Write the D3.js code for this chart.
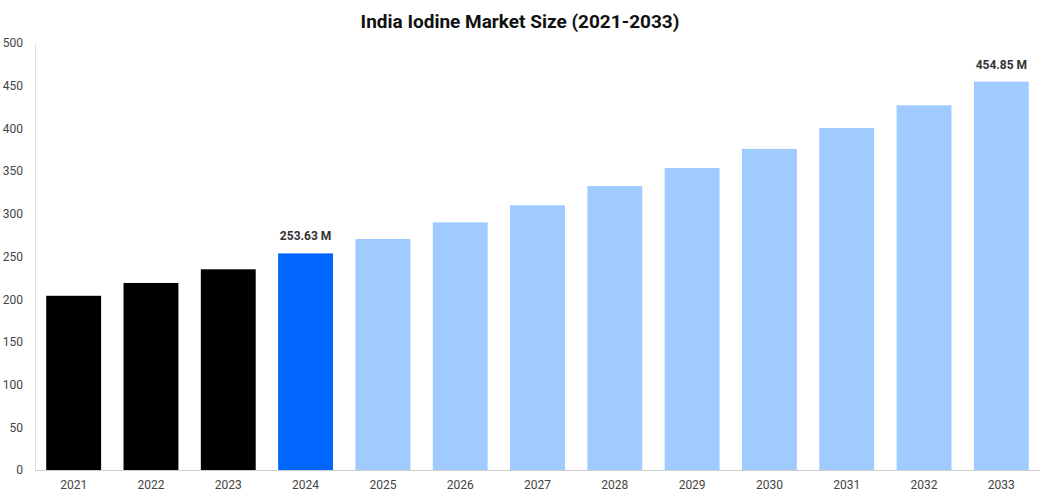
<!DOCTYPE html><html><head><meta charset="utf-8"><script src="https://cdn.jsdelivr.net/npm/d3@7"></script>
<style>body{margin:0;background:#fff;font-family:Roboto,Arial,sans-serif}</style></head><body><svg id="c" width="1040" height="500"></svg>
<script>
const years=["2021","2022","2023","2024","2025","2026","2027","2028","2029","2030","2031","2032","2033"];
const values=[204,219,235,253.63,270.5,290,310,332.5,353.6,376,400.5,427,454.85];
const colors=["#000000","#000000","#000000","#0066ff","#a0cbff","#a0cbff","#a0cbff","#a0cbff","#a0cbff","#a0cbff","#a0cbff","#a0cbff","#a0cbff"];
const labels={"2024":"253.63 M","2033":"454.85 M"};
const yTicks=[0,50,100,150,200,250,300,350,400,450,500];
const svg=d3.select("#c");
const x=d3.scaleBand().domain(years).range([35,1040]).paddingInner(0.29).paddingOuter(0.145);
const y=d3.scaleLinear().domain([0,500]).range([470,43]);
svg.append("text").attr("x",520).attr("y",28).attr("text-anchor","middle").attr("font-size",19).attr("font-weight","bold").attr("fill","#111").text("India Iodine Market Size (2021-2033)");
const ya=svg.append("g").attr("transform","translate(35,0)").call(d3.axisLeft(y).tickValues(yTicks).tickSize(0).tickPadding(12));
ya.select(".domain").attr("stroke","#ddd");
ya.selectAll("text").attr("font-size",12).attr("fill","#444").attr("font-family","Roboto,Arial,sans-serif");
const xa=svg.append("g").attr("transform","translate(0,470)").call(d3.axisBottom(x).tickSize(0).tickPadding(10));
xa.select(".domain").attr("stroke","#ccc");
xa.selectAll("text").attr("font-size",12).attr("fill","#444").attr("font-family","Roboto,Arial,sans-serif");
svg.selectAll("rect.b").data(years).join("rect").attr("class","b").attr("x",d=>x(d)).attr("width",x.bandwidth()).attr("y",(d,i)=>y(values[i])).attr("height",(d,i)=>470-y(values[i])).attr("fill",(d,i)=>colors[i]);
svg.selectAll("text.l").data(years.filter(d=>labels[d])).join("text").attr("class","l").attr("x",d=>x(d)+x.bandwidth()/2).attr("y",d=>y(values[years.indexOf(d)])-13).attr("text-anchor","middle").attr("font-size",12).attr("font-weight","bold").attr("fill","#333").text(d=>labels[d]);
</script></body></html>
